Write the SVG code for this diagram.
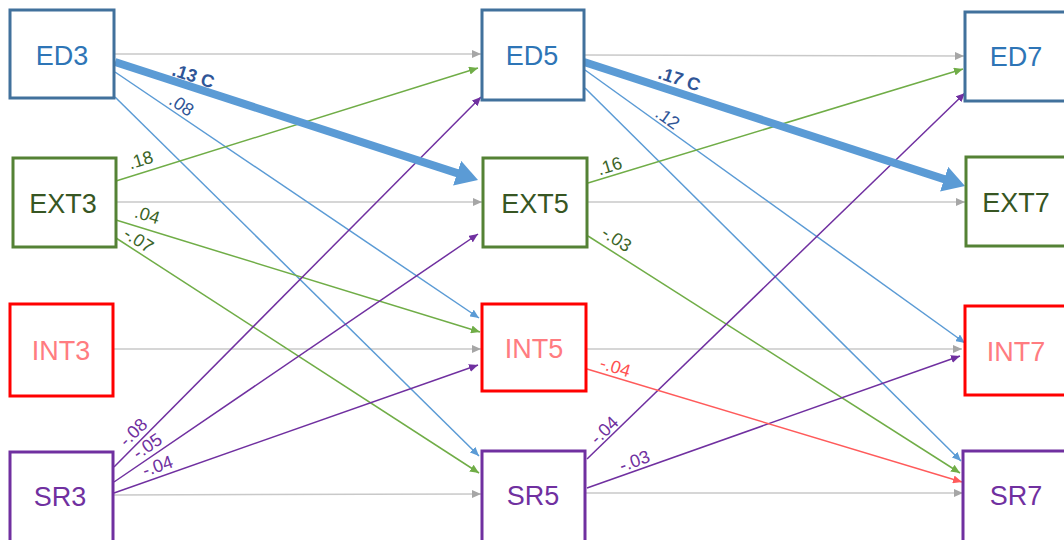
<svg xmlns="http://www.w3.org/2000/svg" width="1064" height="540" viewBox="0 0 1064 540">
<style>
.box{fill:#fff;stroke-width:3}
.nt{font-family:"Liberation Sans",Arial,sans-serif;font-size:27px;text-anchor:middle}
.c{fill:none;stroke-width:1.5}
.g{stroke:#C9C9C9}
.b{stroke:#5B9BD5}
.gr{stroke:#70AD47}
.p{stroke:#7030A0}
.r{stroke:#FF5B5B}
.thick{stroke:#5B9BD5;stroke-width:8;fill:none}
.lb{font-family:"Liberation Sans",Arial,sans-serif;font-size:18px;text-anchor:middle}
</style>
<defs>
<marker id="ag" markerUnits="userSpaceOnUse" markerWidth="9" markerHeight="8" refX="9" refY="4" orient="auto"><path d="M0,0L9,4L0,8z" fill="#A6A6A6"/></marker>
<marker id="ab" markerUnits="userSpaceOnUse" markerWidth="9" markerHeight="8" refX="9" refY="4" orient="auto"><path d="M0,0L9,4L0,8z" fill="#5B9BD5"/></marker>
<marker id="agr" markerUnits="userSpaceOnUse" markerWidth="9" markerHeight="8" refX="9" refY="4" orient="auto"><path d="M0,0L9,4L0,8z" fill="#70AD47"/></marker>
<marker id="ap" markerUnits="userSpaceOnUse" markerWidth="9" markerHeight="8" refX="9" refY="4" orient="auto"><path d="M0,0L9,4L0,8z" fill="#7030A0"/></marker>
<marker id="ar" markerUnits="userSpaceOnUse" markerWidth="9" markerHeight="8" refX="9" refY="4" orient="auto"><path d="M0,0L9,4L0,8z" fill="#FF5B5B"/></marker>
<marker id="abig" markerUnits="userSpaceOnUse" markerWidth="24" markerHeight="26" refX="4" refY="13" orient="auto"><path d="M0,0L22,13L0,26z" fill="#5B9BD5"/></marker>
</defs>
<rect width="1064" height="540" fill="#fff"/>
<g id="connectors">
<line class="c g" x1="115" y1="54" x2="481" y2="54" marker-end="url(#ag)"/>
<line class="c g" x1="116" y1="202" x2="482" y2="202" marker-end="url(#ag)"/>
<line class="c g" x1="114" y1="349" x2="481" y2="349" marker-end="url(#ag)"/>
<line class="c g" x1="114" y1="495" x2="481" y2="494" marker-end="url(#ag)"/>
<line class="c g" x1="585" y1="55" x2="964" y2="56" marker-end="url(#ag)"/>
<line class="c g" x1="588" y1="202" x2="965" y2="202" marker-end="url(#ag)"/>
<line class="c g" x1="587" y1="349" x2="962" y2="349" marker-end="url(#ag)"/>
<line class="c g" x1="586" y1="493" x2="963" y2="493" marker-end="url(#ag)"/>
<line class="c b" x1="115" y1="72" x2="479" y2="318" marker-end="url(#ab)"/>
<line class="c b" x1="115" y1="97" x2="479" y2="456" marker-end="url(#ab)"/>
<line class="c b" x1="585" y1="70" x2="965" y2="343" marker-end="url(#ab)"/>
<line class="c b" x1="585" y1="88" x2="961" y2="461" marker-end="url(#ab)"/>
<line class="c gr" x1="116" y1="181" x2="478" y2="68" marker-end="url(#agr)"/>
<line class="c gr" x1="116" y1="220" x2="480" y2="332" marker-end="url(#agr)"/>
<line class="c gr" x1="116" y1="238" x2="479" y2="473" marker-end="url(#agr)"/>
<line class="c gr" x1="588" y1="183" x2="963" y2="69" marker-end="url(#agr)"/>
<line class="c gr" x1="588" y1="236" x2="960" y2="473" marker-end="url(#agr)"/>
<line class="c p" x1="114" y1="467" x2="481" y2="97" marker-end="url(#ap)"/>
<line class="c p" x1="114" y1="482" x2="478" y2="234" marker-end="url(#ap)"/>
<line class="c p" x1="114" y1="493" x2="478" y2="365" marker-end="url(#ap)"/>
<line class="c p" x1="587" y1="459" x2="965" y2="93" marker-end="url(#ap)"/>
<line class="c p" x1="587" y1="488" x2="960" y2="356" marker-end="url(#ap)"/>
<line class="c r" x1="587" y1="369" x2="962" y2="482" marker-end="url(#ar)"/>
<line class="thick" x1="115" y1="62" x2="460.9" y2="174.4" marker-end="url(#abig)"/>
<line class="thick" x1="584" y1="62" x2="947.9" y2="180.4" marker-end="url(#abig)"/>
<g class="lb">
<text x="193" y="82" font-weight="bold" fill="#2F5597" transform="rotate(18 193 77)">.13 C</text>
<text x="181" y="111" fill="#2F5597" transform="rotate(34 181 106)">.08</text>
<text x="141" y="166" fill="#3B6427" transform="rotate(-17 141 161)">.18</text>
<text x="147" y="221" fill="#3B6427" transform="rotate(17 147 216)">.04</text>
<text x="138" y="246" fill="#3B6427" transform="rotate(33 138 241)">-.07</text>
<text x="134" y="438" fill="#7030A0" transform="rotate(-45 134 433)">-.08</text>
<text x="148" y="452" fill="#7030A0" transform="rotate(-34 148 447)">-.05</text>
<text x="158" y="472" fill="#7030A0" transform="rotate(-19 158 467)">-.04</text>
<text x="679" y="85" font-weight="bold" fill="#2F5597" transform="rotate(18 679 80)">.17 C</text>
<text x="667" y="124" fill="#2F5597" transform="rotate(35.6 667 119)">.12</text>
<text x="610" y="172" fill="#3B6427" transform="rotate(-17 610 167)">.16</text>
<text x="616" y="245" fill="#3B6427" transform="rotate(33 616 240)">-.03</text>
<text x="615" y="373" fill="#FF5050" transform="rotate(17 615 368)">-.04</text>
<text x="605" y="436" fill="#7030A0" transform="rotate(-44 605 431)">-.04</text>
<text x="635" y="467" fill="#7030A0" transform="rotate(-19.6 635 462)">-.03</text>
</g>
</g>
<g id="ED3"><rect class="box" x="10" y="10" width="104" height="88" stroke="#41719C"/><text class="nt" x="62" y="65" fill="#2E75B6">ED3</text></g>
<g id="EXT3"><rect class="box" x="13" y="158" width="103" height="89" stroke="#548235"/><text class="nt" x="63" y="213" fill="#375623">EXT3</text></g>
<g id="INT3"><rect class="box" x="10" y="304" width="103" height="92" stroke="#FF0000"/><text class="nt" x="61" y="360" fill="#FF7C80">INT3</text></g>
<g id="SR3"><rect class="box" x="10" y="452" width="103" height="100" stroke="#7030A0"/><text class="nt" x="60" y="506" fill="#7030A0">SR3</text></g>
<g id="ED5"><rect class="box" x="482" y="10" width="102" height="90" stroke="#41719C"/><text class="nt" x="532" y="65" fill="#2E75B6">ED5</text></g>
<g id="EXT5"><rect class="box" x="483" y="158" width="104" height="89" stroke="#548235"/><text class="nt" x="535" y="213" fill="#375623">EXT5</text></g>
<g id="INT5"><rect class="box" x="482" y="304" width="104" height="87" stroke="#FF0000"/><text class="nt" x="534" y="358" fill="#FF7C80">INT5</text></g>
<g id="SR5"><rect class="box" x="482" y="451" width="103" height="100" stroke="#7030A0"/><text class="nt" x="533" y="505" fill="#7030A0">SR5</text></g>
<g id="ED7"><rect class="box" x="965" y="12" width="120" height="89" stroke="#41719C"/><text class="nt" x="1016" y="66" fill="#2E75B6">ED7</text></g>
<g id="EXT7"><rect class="box" x="966" y="157" width="120" height="89" stroke="#548235"/><text class="nt" x="1016" y="212" fill="#375623">EXT7</text></g>
<g id="INT7"><rect class="box" x="965" y="306" width="120" height="89" stroke="#FF0000"/><text class="nt" x="1016" y="361" fill="#FF7C80">INT7</text></g>
<g id="SR7"><rect class="box" x="963" y="451" width="120" height="100" stroke="#7030A0"/><text class="nt" x="1016" y="505" fill="#7030A0">SR7</text></g>
</svg>
